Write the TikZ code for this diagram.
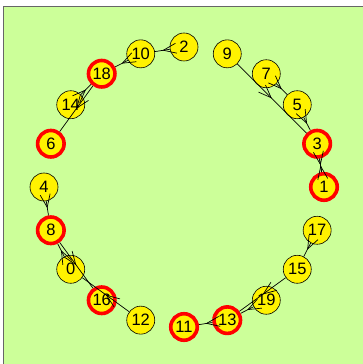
\documentclass[tikz,border=0pt]{standalone}
\usepackage{fontspec}
\setmainfont{Liberation Sans}
\usetikzlibrary{arrows.meta,decorations.markings,calc}
\definecolor{paleback}{RGB}{204,255,153}

\begin{document}
\begin{tikzpicture}[x=1pt,y=1pt,
    every node/.style={circle, inner sep=0pt, font=\fontsize{16.5}{16.5}\selectfont},
    vert/.style={fill=yellow, draw=black, line width=0.6pt, minimum size=28pt},
    hit/.style={fill=yellow, draw=red, line width=3.6pt, minimum size=26.5pt},
    link/.style={line width=0.7pt, postaction={decorate},
        decoration={markings, mark=at position 0.5 with {\arrow{Straight Barb[length=13pt,width=10pt]}}}}]
    \useasboundingbox (0,0) rectangle (363,364);
    \fill[paleback] (3,0) rectangle (363,358);
    \draw[gray!80!black, line width=0.8pt] (3,0) -- (3,358) -- (363,358);
    \coordinate (c) at (184,177);
    % vertices on the ring, angle in steps of 18 degrees
    \foreach \n/\k in {2/5,9/4,7/3,5/2,10/6,14/8,4/10,0/12,12/14,19/17,15/18,17/19}
        \node[vert] (v\n) at ($(c)+(\k*18:140)$) {\n};
    \foreach \n/\k in {1/0,3/1,18/7,6/9,8/11,16/13,11/15,13/16}
        \node[hit] (v\n) at ($(c)+(\k*18:140)$) {\n};
    \foreach \a/\b in {2/10,10/18,14/18,18/6,9/3,7/5,5/3,3/1,1/3,4/8,0/8,8/16,12/0,17/15,15/13,19/13,13/11}
        \draw[link] (v\a) -- (v\b);
\end{tikzpicture}
\end{document}
